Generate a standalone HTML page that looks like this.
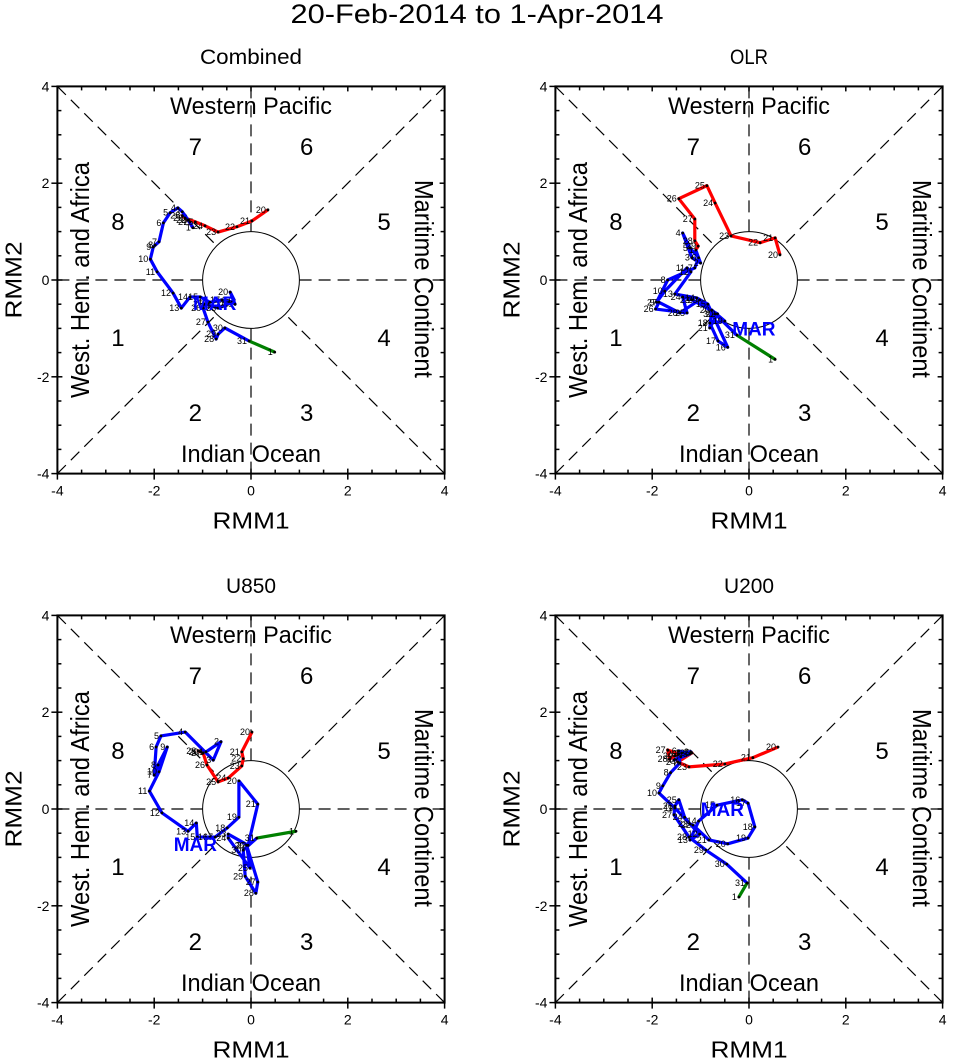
<!DOCTYPE html>
<html><head><meta charset="utf-8">
<style>
body{margin:0;background:#fff;}
svg{display:block;font-family:"Liberation Sans",Arial,sans-serif;}
</style></head>
<body>
<svg id="chart" width="954" height="1058" viewBox="0 0 954 1058">
<text x="477" y="23" font-size="27" text-anchor="middle" textLength="373" lengthAdjust="spacingAndGlyphs">20-Feb-2014 to 1-Apr-2014</text>
</svg>
<script>
// Panel titles
const panelTitles = ["Combined","OLR","U850","U200"];
const panelTitleLen = [102,38,50,50];
// Combined
const combRed = [[0.35,1.45],[0.02,1.22],[-0.29,1.10],[-0.68,0.99],[-0.95,1.12],[-1.15,1.20],[-1.36,1.28],[-1.26,1.20],[-1.42,1.33],[-1.30,1.24]];
const combBlue = [[-1.20,1.08],[-1.30,1.24],[-1.42,1.41],[-1.51,1.49],[-1.67,1.39],[-1.81,1.18],[-1.90,0.79],[-1.98,0.72],[-2.02,0.68],[-2.08,0.43],[-1.94,0.17],[-1.61,-0.27],[-1.44,-0.58],[-1.26,-0.35],[-1.05,-0.35],[-0.85,-0.46],[-0.60,-0.41],[-0.39,-0.46],[-0.33,-0.50],[-0.43,-0.25],[-0.35,-0.41],[-0.52,-0.52],[-0.68,-0.58],[-0.80,-0.54],[-0.95,-0.50],[-0.99,-0.58],[-0.89,-0.87],[-0.72,-1.22],[-0.68,-1.12],[-0.54,-0.99],[-0.04,-1.26]];
const combGreen = [[0.49,-1.49]];
// OLR
const olrRed = [[0.64,0.52],[0.54,0.87],[0.23,0.77],[-0.37,0.91],[-0.70,1.59],[-0.87,1.95],[-1.45,1.68],[-1.12,1.26],[-1.12,0.81],[-1.05,0.70]];
const olrBlue = [[-1.10,0.62],[-1.00,0.35],[-1.18,0.46],[-1.37,0.97],[-1.22,0.66],[-1.04,0.46],[-1.12,0.25],[-1.68,0.0],[-1.91,-0.46],[-1.74,-0.23],[-1.28,0.25],[-1.20,0.17],[-1.53,-0.29],[-1.08,-0.37],[-0.85,-0.50],[-0.44,-1.39],[-0.64,-1.26],[-0.81,-0.89],[-0.50,-0.85],[-0.77,-0.62],[-0.81,-0.99],[-0.65,-0.70],[-1.18,-0.41],[-1.37,-0.35],[-1.28,-0.68],[-1.93,-0.60],[-1.86,-0.46],[-1.43,-0.68],[-1.02,-0.41],[-0.70,-0.70],[-0.25,-1.14]];
const olrGreen = [[0.54,-1.64]];
// U850
const u850Red = [[0.02,1.59],[-0.19,1.18],[-0.16,1.04],[-0.19,0.89],[-0.47,0.64],[-0.68,0.56],[-0.91,0.91],[-0.99,1.16],[-1.09,1.20],[-1.04,1.18]];
const u850Blue = [[-0.93,1.18],[-0.62,1.39],[-0.78,1.01],[-1.36,1.59],[-1.86,1.51],[-1.96,1.28],[-2.00,0.70],[-1.92,0.91],[-1.73,1.28],[-1.90,0.77],[-2.10,0.37],[-1.84,-0.08],[-1.30,-0.46],[-1.13,-0.29],[-1.11,-0.58],[-0.85,-0.58],[-0.74,-0.58],[-0.49,-0.39],[-0.25,-0.17],[-0.25,0.58],[0.14,0.10],[-0.06,-0.75],[-0.47,-0.52],[-0.47,-0.60],[-0.02,-1.22],[-0.09,-0.75],[0.14,-1.51],[0.10,-1.74],[-0.12,-1.39],[-0.16,-0.85],[0.12,-0.60]];
const u850Green = [[0.93,-0.46]];
// U200
const u200Red = [[0.60,1.28],[0.08,1.06],[-0.50,0.93],[-1.24,0.87],[-1.47,0.97],[-1.18,1.16],[-1.45,1.14],[-1.68,1.22],[-1.64,1.03],[-1.53,1.10]];
const u200Blue = [[-1.39,1.16],[-1.20,1.18],[-1.41,1.08],[-1.55,1.01],[-1.22,1.14],[-1.45,1.20],[-1.43,0.95],[-1.62,0.75],[-1.78,0.48],[-1.86,0.33],[-1.53,0.02],[-1.02,-0.52],[-1.22,-0.64],[-1.04,-0.25],[-0.66,0.08],[-0.14,0.19],[-0.02,0.12],[0.12,-0.37],[-0.02,-0.60],[-0.44,-0.72],[-0.83,-0.64],[-1.16,-0.33],[-1.22,-0.31],[-1.33,-0.17],[-1.45,0.19],[-1.53,0.06],[-1.55,-0.12],[-1.24,-0.58],[-0.89,-0.85],[-0.46,-1.14],[-0.04,-1.53]];
const u200Green = [[-0.21,-1.82]];
const marPos = [[-0.75,-0.48],[0.1,-1.0],[-1.15,-0.72],[-0.55,-0.0]];
const tickVals = [-4,-2,0,2,4];

const panels = [
 {ox:251,oy:280,red:combRed,blue:combBlue,green:combGreen,key:"combined"},
 {ox:749,oy:280,red:olrRed,blue:olrBlue,green:olrGreen,key:"olr"},
 {ox:251,oy:809,red:u850Red,blue:u850Blue,green:u850Green,key:"u850"},
 {ox:749,oy:809,red:u200Red,blue:u200Blue,green:u200Green,key:"u200"}
];
const S = 48.4;
const NS = "http://www.w3.org/2000/svg";
const svg = document.getElementById('chart');
function mk(tag, attrs, parent){
  const e = document.createElementNS(NS, tag);
  for (const k in attrs) e.setAttribute(k, attrs[k]);
  (parent||svg).appendChild(e);
  return e;
}
panels.forEach((p,pi)=>{
  const g = mk('g',{});
  
  
  const X = v => p.ox + v*S, Y = v => p.oy - v*S;
  const t = mk('text',{x:p.ox,y:p.oy-216,'font-size':21,'text-anchor':'middle',textLength:panelTitleLen[pi],lengthAdjust:'spacingAndGlyphs'},g);
  t.textContent = panelTitles[pi];
  
  
  const dg = mk('g',{stroke:'#000','stroke-width':1.2,'stroke-dasharray':'12,7',fill:'none'},g);
  
  
  const r2 = 1/Math.SQRT2;
  [[-4,-4,-r2,-r2],[4,4,r2,r2],[-4,4,-r2,r2],[4,-4,r2,-r2],[-4,0,-1,0],[4,0,1,0],[0,4,0,1],[0,-4,0,-1]].forEach(l=>{
    mk('line',{x1:X(l[0]),y1:Y(l[1]),x2:X(l[2]),y2:Y(l[3])},dg);
  });
  const c = mk('circle',{cx:X(0),cy:Y(0),r:S,fill:'none',stroke:'#000','stroke-width':1},g);
  
  
  const fr = mk('rect',{x:X(-4),y:Y(4),width:8*S,height:8*S,fill:'none',stroke:'#000','stroke-width':2},g);
  
  
  for(let v=-4; v<=4.001; v+=0.5){
    const major = Math.abs(v - Math.round(v/2)*2) < 1e-6;
    const inL = major?5:4;
    mk('line',{x1:X(v),y1:Y(-4)+(major?6:0),x2:X(v),y2:Y(-4)-inL,stroke:'#000','stroke-width':1.5},g);
    mk('line',{x1:X(v),y1:Y(4),x2:X(v),y2:Y(4)+inL,stroke:'#000','stroke-width':1.5},g);
    mk('line',{x1:X(-4)-(major?6:0),y1:Y(v),x2:X(-4)+inL,y2:Y(v),stroke:'#000','stroke-width':1.5},g);
    mk('line',{x1:X(4),y1:Y(v),x2:X(4)-inL,y2:Y(v),stroke:'#000','stroke-width':1.5},g);
  }
  tickVals.forEach(v=>{
    const tx = mk('text',{x:X(v),y:Y(-4)+22,'font-size':14,'text-anchor':'middle'},g);
    tx.textContent = v;
    
    
    const ty = mk('text',{x:X(-4)-8,y:Y(v)+5,'font-size':14,'text-anchor':'end'},g);
    ty.textContent = v;
    
    
  });
  const xl = mk('text',{x:p.ox,y:Y(-4)+55,'font-size':23,'text-anchor':'middle',textLength:77,lengthAdjust:'spacingAndGlyphs'},g);
  xl.textContent = 'RMM1';
  
  
  const yl = mk('text',{x:0,y:0,'font-size':23,'text-anchor':'middle',textLength:77,lengthAdjust:'spacingAndGlyphs',transform:`translate(${X(-4)-36},${p.oy}) rotate(-90)`},g);
  yl.textContent = 'RMM2';
  
  
  const wp = mk('text',{x:p.ox,y:Y(3.6)+8,'font-size':24,'text-anchor':'middle',textLength:162,lengthAdjust:'spacingAndGlyphs'},g);
  wp.textContent = 'Western Pacific';
  
  
  const io = mk('text',{x:p.ox,y:Y(-3.6)+8,'font-size':24,'text-anchor':'middle',textLength:140,lengthAdjust:'spacingAndGlyphs'},g);
  io.textContent = 'Indian Ocean';
  
  
  const wh = mk('text',{x:0,y:0,'font-size':26,'text-anchor':'middle',textLength:236,lengthAdjust:'spacingAndGlyphs',transform:`translate(${X(-3.6)+12},${p.oy}) rotate(-90)`},g);
  wh.textContent = 'West. Hem. and Africa';
  
  
  const mc = mk('text',{x:0,y:0,'font-size':26,'text-anchor':'middle',textLength:198,lengthAdjust:'spacingAndGlyphs',transform:`translate(${X(3.6)-10},${p.oy-1}) rotate(90)`},g);
  mc.textContent = 'Maritime Continent';
  
  
  [[1,-2.75,-1.2],[2,-1.15,-2.75],[3,1.15,-2.75],[4,2.75,-1.2],[5,2.75,1.2],[6,1.15,2.75],[7,-1.15,2.75],[8,-2.75,1.2]].forEach(ph=>{
    const pt = mk('text',{x:X(ph[1]),y:Y(ph[2])+8,'font-size':24,'text-anchor':'middle'},g);
    pt.textContent = ph[0];
    
    
  });
  const redPts = p.red.concat([p.blue[0]]);
  const bluePts = p.blue;
  const greenPts = [p.blue[p.blue.length-1]].concat(p.green);
  [[redPts,'#ff0000','feb-trajectory'],[bluePts,'#0000ff','mar-trajectory'],[greenPts,'#008000','apr-trajectory']].forEach(s=>{
    const pl = mk('polyline',{points:s[0].map(q=>X(q[0])+','+Y(q[1])).join(' '),fill:'none',stroke:s[1],'stroke-width':3.2,'stroke-linejoin':'round'},g);
    
    
  });
  const all = [];
  p.red.forEach((q,i)=>all.push([q,20+i]));
  p.blue.forEach((q,i)=>all.push([q,1+i]));
  p.green.forEach((q,i)=>all.push([q,1+i]));
  all.forEach(a=>{
    const d = mk('circle',{cx:X(a[0][0]),cy:Y(a[0][1]),r:1.4,fill:'#000'},g);
    
    
    const lt = mk('text',{x:X(a[0][0])-2,y:Y(a[0][1])+3,'font-size':9,'text-anchor':'end'},g);
    lt.textContent = a[1];
    
    
  });
  const mar = mk('text',{x:X(marPos[pi][0]),y:Y(marPos[pi][1])+7,'font-size':19,'font-weight':'bold',fill:'#0000ff','text-anchor':'middle'},g);
  mar.textContent = 'MAR';
  
  
});
</script>
</body></html>
